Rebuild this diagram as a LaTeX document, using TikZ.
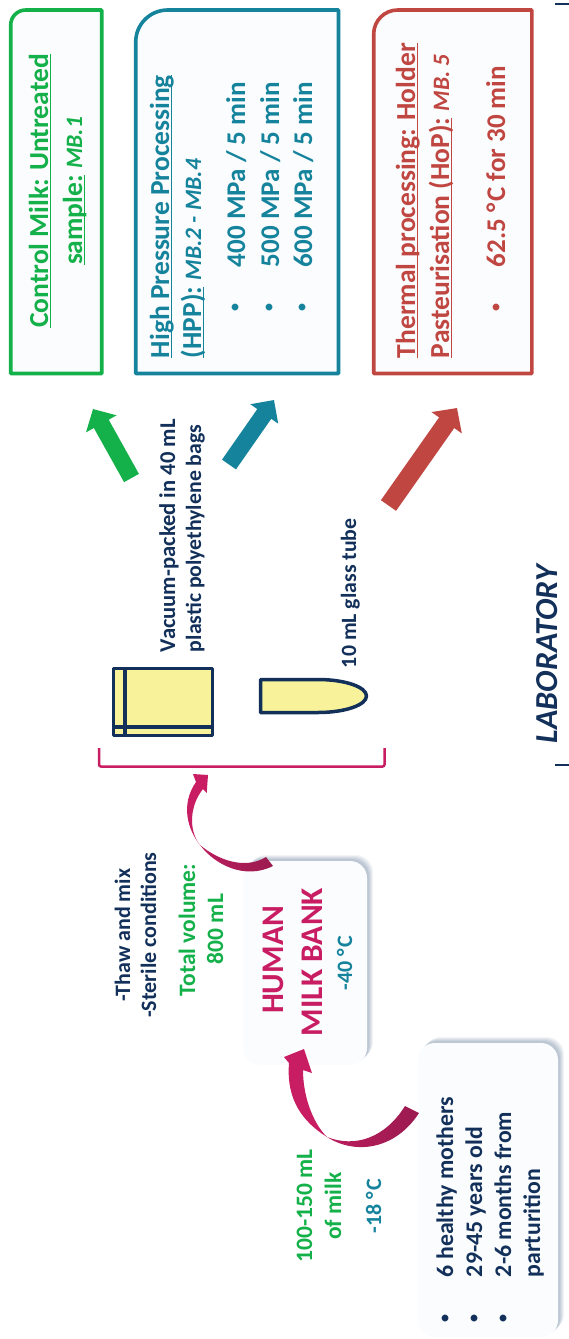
\documentclass[tikz,border=0pt]{standalone}
\usepackage{fontspec}
\setmainfont{Carlito}
\usetikzlibrary{arrows.meta}
\definecolor{cnavy}{HTML}{12305A}
\definecolor{cgreen}{HTML}{14B04A}
\definecolor{cteal}{HTML}{15839C}
\definecolor{cred}{HTML}{C04741}
\definecolor{cpink}{HTML}{C81D63}
\definecolor{cdark}{HTML}{9B1B50}
\definecolor{cyel}{HTML}{F8F39A}
\definecolor{cfill}{HTML}{FBFCFE}
\definecolor{cshadow}{HTML}{8496AE}
\newcommand\ulx[1]{\setbox0\hbox{#1}\rlap{\rule[-3pt]{\wd0}{1.3pt}}\box0\relax}
\newcommand\fs[1]{\fontsize{#1}{#1}\selectfont\bfseries}
\newcommand\mbt{\fontsize{23.5}{23.5}\selectfont\itshape}
\tikzset{
  lbl/.style={rotate=90,inner sep=0pt,outer sep=0pt,anchor=base west},
  clbl/.style={rotate=90,inner sep=0pt,outer sep=0pt,anchor=base},
  head/.style={lbl,font=\fs{27.5}},
  chead/.style={clbl,font=\fs{27.5}},
  item/.style={lbl,font=\fs{27}},
  dot/.style={lbl,font=\fs{16}},
  small/.style={clbl,font=\fs{22}},
  info/.style={lbl,font=\fs{21.8},text=cnavy},
  donor/.style={lbl,font=\fs{23.8},text=cnavy},
  card/.style={line width=3.6pt,fill=cfill,line join=round},
  soft/.style={fill=cfill,rounded corners=17pt},
  outlined/.style={draw=cnavy,line width=3.5pt,line join=round},
}
\begin{document}
\begin{tikzpicture}[x=1pt,y=-1pt]
\useasboundingbox (0,0) rectangle (569,1339);
% treatment cards
\draw[card,draw=cgreen] (10.7,25) arc[start angle=180,end angle=270,radius=15] -- (101.7,10) -- (101.7,373.5) -- (10.7,373.5) -- cycle;
\draw[card,draw=cteal] (135.7,42) arc[start angle=180,end angle=270,radius=32] -- (338.5,10) -- (338.5,373.5) -- (135.7,373.5) -- cycle;
\draw[card,draw=cred] (373.7,34) arc[start angle=180,end angle=270,radius=24] -- (531.8,10) -- (531.8,373.5) -- (373.7,373.5) -- cycle;
% green text
\node[chead,text=cgreen] (g1) at (48,191) {\ulx{Control Milk: Untreated}};
\node[chead,text=cgreen] (g2) at (82,191) {\ulx{sample:} {\mbt MB.1}};
% teal text
\node[head,text=cteal] (t1) at (169,358) {\ulx{High Pressure Processing}};
\node[head,text=cteal] (t2) at (201,358) {\ulx{(HPP):} {\mbt MB.2 - MB.4}};
\node[dot,text=cteal] (tb1) at (239.6,311) {•};
\node[dot,text=cteal] (tb2) at (273.6,311) {•};
\node[dot,text=cteal] (tb3) at (306.6,311) {•};
\node[item,text=cteal] (t3) at (245,267) {400 MPa / 5 min};
\node[item,text=cteal] (t4) at (279,267) {500 MPa / 5 min};
\node[item,text=cteal] (t5) at (312,267) {600 MPa / 5 min};
% red text
\node[head,text=cred] (r1) at (415,358) {\ulx{Thermal processing: Holder}};
\node[head,text=cred] (r2) at (449,358) {\ulx{Pasteurisation (HoP):} {\mbt MB. 5}};
\node[dot,text=cred] (rb1) at (500.6,311) {•};
\node[item,text=cred] (r3) at (505,267) {62.5 °\kern2pt C for 30 min};
% block arrows
\coordinate (ga) at (131.5,478); \coordinate (gb) at (93,409);
\coordinate (ta) at (229,464.5); \coordinate (tb) at (274,400);
\coordinate (ra) at (388.5,505.5); \coordinate (rb) at (457,408);
\draw[line width=17pt,draw=cgreen,-{Triangle[length=17pt,width=34pt,fill=cgreen]}] (ga) -- (gb);
\draw[line width=17pt,draw=cteal,-{Triangle[length=17pt,width=33pt,fill=cteal]}] (ta) -- (tb);
\draw[line width=18.5pt,draw=cred,-{Triangle[length=18pt,width=36pt,fill=cred]}] (ra) -- (rb);
% container labels
\node[lbl,font=\fs{22.6},text=cnavy] (v1) at (175,652) {Vacuum-packed in 40 mL};
\node[info] (v2) at (201,652) {plastic polyethylene bags};
\node[info] (v3) at (356,668) {10 mL glass tube};
% bag
\draw[outlined,fill=cyel] (113.5,668.5) rectangle (212.5,735.5);
\draw[outlined] (125,668.5) -- (125,735.5);
\draw[outlined] (113.5,727) -- (212.5,727);
% tube
\draw[outlined,fill=cyel] (260.5,679.5) -- (318,679.5) .. controls (345,679.5) and (366.5,687) .. (366.5,696) .. controls (366.5,705) and (345,712.5) .. (318,712.5) -- (260.5,712.5) -- cycle;
% bracket
\draw[cpink,line width=2.5pt,rounded corners=2pt] (99,748) -- (99,766.5) -- (384.5,766.5) -- (384.5,748);
% laboratory
\node[lbl,font=\fontsize{32}{32}\selectfont\bfseries\itshape,text=cnavy] (lab) at (557,743) {LABORATORY};
\draw[cnavy,line width=2.5pt] (555,765) -- (569,765);
\draw[cnavy,line width=2.5pt] (555,4) -- (569,4);
% soft boxes
\foreach \s/\o in {6/0.10,5/0.12,4/0.14,3/0.16,2/0.18}{
  \fill[cshadow,fill opacity=\o,rounded corners=17pt] (243+\s,861-\s) rectangle (367+\s,1065-\s);
  \fill[cshadow,fill opacity=\o,rounded corners=17pt] (418+\s,1043-\s) rectangle (558+\s,1337-\s);
}
\fill[soft] (243,861) rectangle (367,1065);
\fill[soft] (418,1043) rectangle (558,1337);
% bank text
\node[clbl,font=\fs{31.5},text=cpink] (h1) at (283,960) {HUMAN};
\node[clbl,font=\fs{31.5},text=cpink] (h2) at (322,962) {MILK BANK};
\node[clbl,font=\fs{22},text=cteal] (h3) at (352,963) {-40 °\kern1.5pt C};
\node[small,text=cnavy] (a1) at (130,935) {-Thaw and mix};
\node[small,text=cnavy] (a2) at (156,935) {-Sterile conditions};
\node[clbl,font=\fs{23.5},text=cgreen] (a3) at (195,930) {Total volume:};
\node[clbl,font=\fs{23.5},text=cgreen] (a4) at (223,929) {800 mL};
\node[clbl,font=\fs{23.5},text=cgreen] (c1) at (312,1206) {100-150 mL};
\node[clbl,font=\fs{23.5},text=cgreen] (c2) at (341,1206) {of milk};
\node[clbl,font=\fs{22},text=cteal] (c3) at (381,1206) {-18 °\kern1.5pt C};
% donors
\node[dot,text=cnavy] (db1) at (449.6,1322) {•};
\node[dot,text=cnavy] (db2) at (478.6,1322) {•};
\node[dot,text=cnavy] (db3) at (507.6,1322) {•};
\node[donor] (d1) at (453,1277) {6 healthy mothers};
\node[donor] (d2) at (482,1277) {29-45 years old};
\node[donor] (d3) at (511,1277) {2-6 months from};
\node[donor] (d4) at (540,1277) {parturition};
% curved arrow 1
\fill[cpink] (200,845) .. controls (188,830) and (180,805) .. (196,782) -- (193,774) -- (208,775) -- (206.7,793) -- (203,789) .. controls (190,805) and (188,830) .. (200,845) -- cycle;
\shade[left color=cpink!70!cdark,right color=cdark] (200,845) .. controls (215,865) and (245,880) .. (273,866) -- (266,857) .. controls (245,870) and (218,860) .. (200,845) -- cycle;
% curved arrow 2
\fill[cpink] (327,1137) .. controls (303,1122) and (286,1100) .. (289,1063) -- (284,1057) -- (304,1049) -- (312,1073) -- (303,1070) .. controls (303,1095) and (312,1122) .. (327,1137) -- cycle;
\shade[left color=cpink!70!cdark,right color=cdark] (327,1137) .. controls (355,1155) and (395,1150) .. (419,1113) -- (405,1106) .. controls (385,1138) and (355,1148) .. (327,1137) -- cycle;
\end{tikzpicture}
\end{document}
